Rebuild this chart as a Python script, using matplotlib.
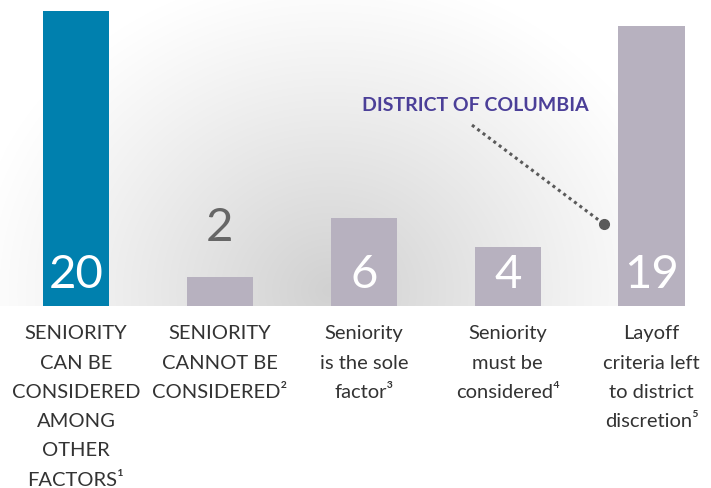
import numpy as np
import matplotlib
matplotlib.use("Agg")
import matplotlib.pyplot as plt

categories = [
    "SENIORITY\nCAN BE\nCONSIDERED\nAMONG\nOTHER\nFACTORS¹",
    "SENIORITY\nCANNOT BE\nCONSIDERED²",
    "Seniority\nis the sole\nfactor³",
    "Seniority\nmust be\nconsidered⁴",
    "Layoff\ncriteria left\nto district\ndiscretion⁵",
]
values = [20, 2, 6, 4, 19]
bar_colors = ["#0080ae", "#b7b1bf", "#b7b1bf", "#b7b1bf", "#b7b1bf"]

plt.rcParams["font.family"] = ["Lato", "DejaVu Sans"]

fig = plt.figure(figsize=(7.11, 4.88), dpi=100)
ax = fig.add_axes([0, 0, 1, 1])
xmin, xmax = -0.528, 4.413
ymin, ymax = -12.34, 20.75
ax.set_xlim(xmin, xmax)
ax.set_ylim(ymin, ymax)
ax.axis("off")

# radial grey glow behind the bars (above the baseline only)
W, H = 711, 306
px, py = np.meshgrid(np.arange(W), np.arange(H))
r = np.sqrt(((px - 330) / 360) ** 2 + ((py - 290) / 320) ** 2)
shade = 255 - 46 * np.clip(1 - r, 0, 1) ** 1.1
img = np.dstack([shade, shade, shade]).astype(np.uint8)
ax.imshow(img, extent=(xmin, xmax, 0, ymax), aspect="auto", zorder=0)

x = np.arange(len(values))
ax.bar(x, values, width=0.46, color=bar_colors, zorder=2)

for xi, v in zip(x, values):
    if v >= 4:
        ax.text(xi, 1.2, str(v), ha="center", va="baseline", color="white",
                fontsize=34, zorder=3)
    else:
        ax.text(xi, v + 2.4, str(v), ha="center", va="baseline", color="#666666",
                fontsize=34, zorder=3)

for xi, lab in zip(x, categories):
    ax.text(xi, -1.3, lab, ha="center", va="top", color="#333333",
            fontsize=14.5, linespacing=1.88, zorder=3)

# District of Columbia callout
ax.text(2.773, 13.63, "DISTRICT OF COLUMBIA", ha="center", va="center",
        color="#4b3f98", fontsize=14, fontweight="bold", zorder=3)
ax.plot([2.752, 3.669], [12.27, 5.56], linestyle=(0, (1, 1.2)), color="#5a5a5a",
        linewidth=2.2, zorder=3)
ax.plot([3.669], [5.56], marker="o", markersize=7, color="#5a5a5a", zorder=4)

fig.savefig("out.png", dpi=100)
